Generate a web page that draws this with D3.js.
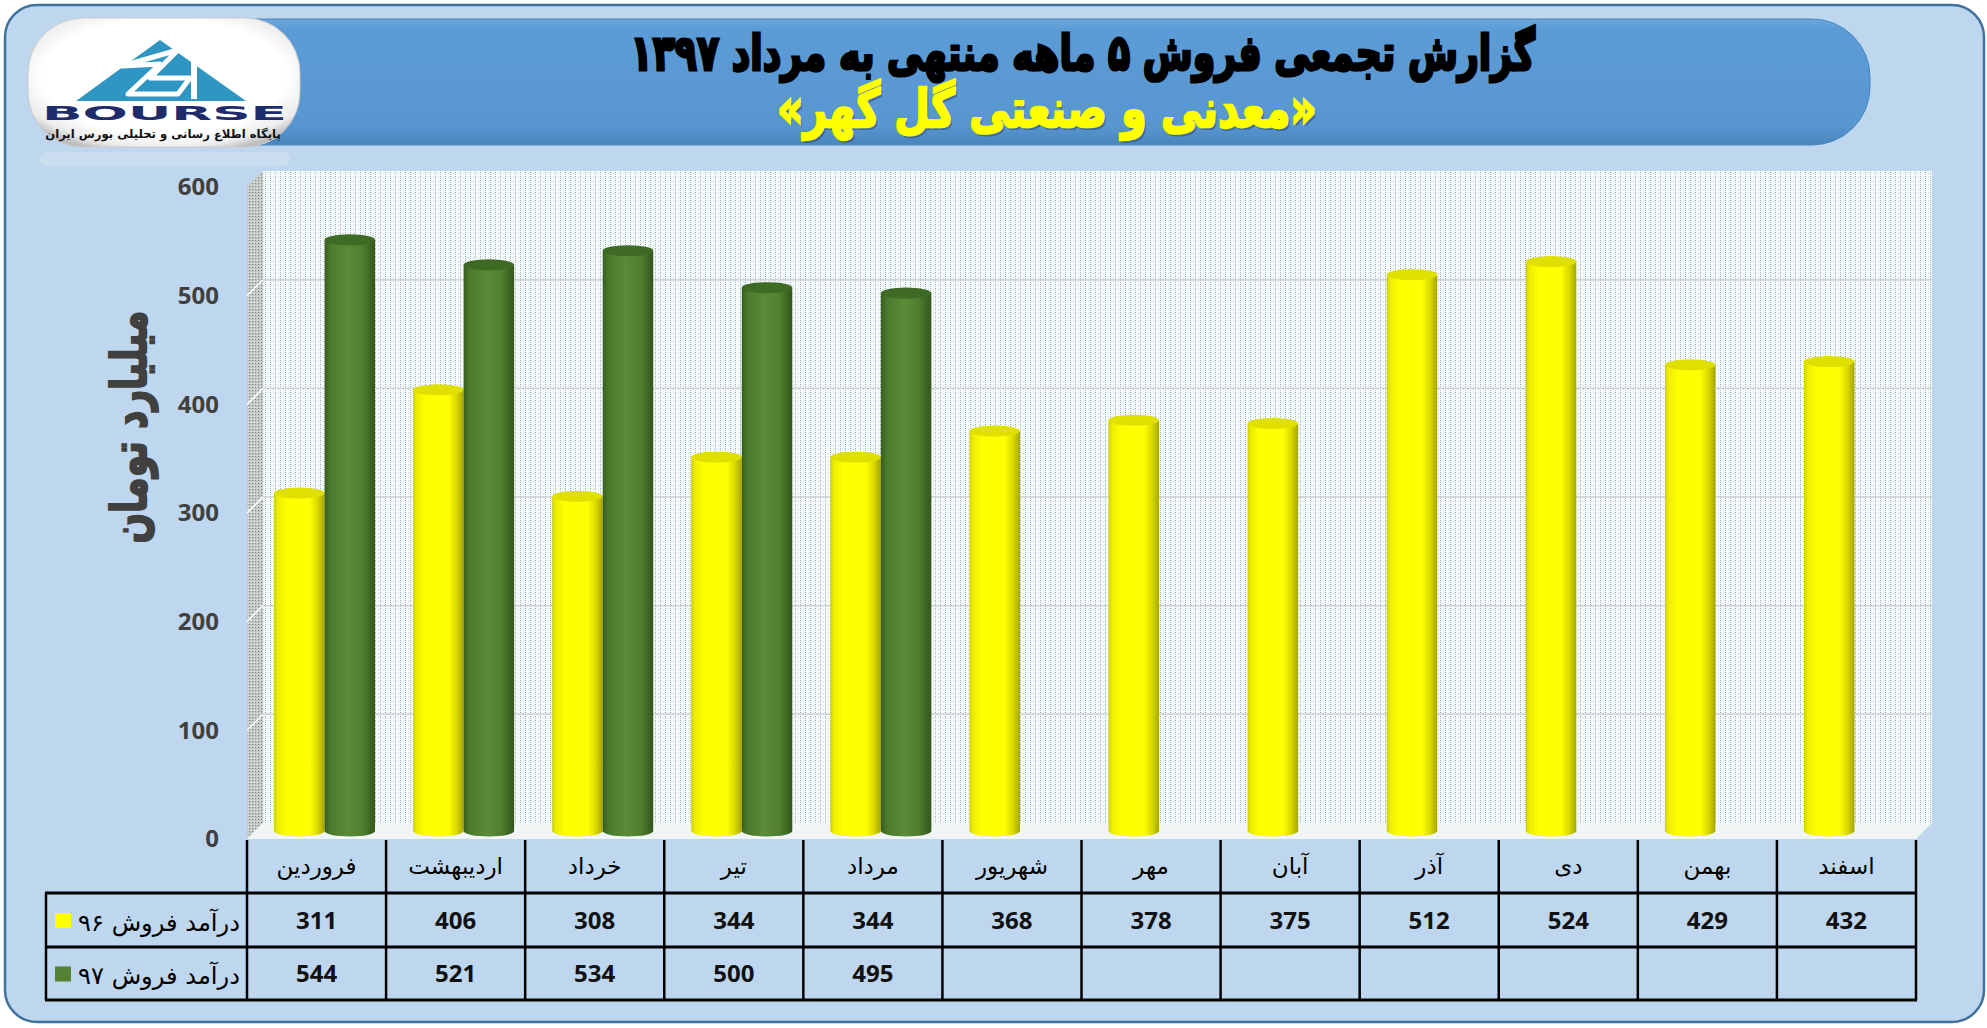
<!DOCTYPE html>
<html><head><meta charset="utf-8">
<script src="https://cdn.jsdelivr.net/npm/d3@7"></script>
<style>body{margin:0;background:#fff;overflow:hidden}svg{display:block}</style>
</head><body>
<svg id="c" width="1987" height="1028"></svg>
<script>
// ---------- data ----------
const months = ["فروردین","اردیبهشت","خرداد","تیر","مرداد","شهریور","مهر","آبان","آذر","دی","بهمن","اسفند"];
const sales96 = [311,406,308,344,344,368,378,375,512,524,429,432];
const sales97 = [544,521,534,500,495,null,null,null,null,null,null,null];
const seriesNames = ["درآمد فروش ۹۶","درآمد فروش ۹۷"];
const yTicks = [0,100,200,300,400,500,600];
const titleLine1 = "گزارش تجمعی فروش ۵ ماهه منتهی به مرداد ۱۳۹۷";
const titleLine2 = "«معدنی و صنعتی گل گهر»";
const yAxisTitle = "میلیارد تومان";
const logoName = "BOURSE";
const logoSub = "پایگاه اطلاع رسانی و تحلیلی بورس ایران";

// ---------- setup ----------
const svg = d3.select("#c");
const defs = svg.append("defs");
const ARABIC = "'DejaVu Sans', sans-serif";
const NUM = "'Open Sans', 'Liberation Sans', sans-serif";

function fitText(sel, w, cx, cy) {
  let bb = sel.node().getBBox();
  const fs = parseFloat(sel.attr("font-size"));
  sel.attr("font-size", fs * w / bb.width);
  bb = sel.node().getBBox();
  sel.attr("x", +sel.attr("x") + (cx - (bb.x + bb.width / 2)));
  sel.attr("y", +sel.attr("y") + (cy - (bb.y + bb.height / 2)));
}
function stretchY(g, cx, cy, k) {
  g.attr("transform", `translate(${cx},${cy}) scale(1,${k}) translate(${-cx},${-cy})`);
}

// gradients
function linGrad(id, stops, vertical) {
  const g = defs.append("linearGradient").attr("id", id)
    .attr("x1", 0).attr("y1", 0).attr("x2", vertical ? 0 : 1).attr("y2", vertical ? 1 : 0);
  stops.forEach(s => g.append("stop").attr("offset", s[0]).attr("stop-color", s[1]));
}
linGrad("gYellow", [[0,"#CFCF00"],[0.07,"#EDED00"],[0.25,"#FFFF00"],[0.7,"#FFFF05"],[0.86,"#DADA00"],[1,"#A5A500"]]);
linGrad("gGreen", [[0,"#375E1D"],[0.12,"#4B7A2C"],[0.45,"#5A8B38"],[0.75,"#4F7F2F"],[1,"#33561B"]]);
linGrad("gBanner", [[0,"#6AA7DD"],[0.08,"#5C9CD6"],[0.85,"#5896D0"],[1,"#4A84BC"]], true);
const rg = defs.append("radialGradient").attr("id", "gLogo").attr("cx", 0.5).attr("cy", 0.45).attr("r", 0.62);
[[0,"#ffffff"],[0.72,"#ffffff"],[0.9,"#ececec"],[1,"#bdbdbd"]].forEach(s => rg.append("stop").attr("offset", s[0]).attr("stop-color", s[1]));

// dotted wall patterns
const pw = defs.append("pattern").attr("id", "pWall").attr("patternUnits", "userSpaceOnUse").attr("width", 5).attr("height", 4);
pw.append("rect").attr("width", 5).attr("height", 4).attr("fill", "#f8fbfb");
pw.append("rect").attr("x", 0).attr("y", 0).attr("width", 1).attr("height", 1).attr("fill", "#86aaaa");
pw.append("rect").attr("x", 0).attr("y", 2).attr("width", 1).attr("height", 1).attr("fill", "#a9c2c2");
pw.append("rect").attr("x", 3).attr("y", 1).attr("width", 1).attr("height", 1).attr("fill", "#c3d3d3");
const pl = defs.append("pattern").attr("id", "pLeft").attr("patternUnits", "userSpaceOnUse").attr("width", 3).attr("height", 3);
pl.append("rect").attr("width", 3).attr("height", 3).attr("fill", "#c4c8c4");
pl.append("rect").attr("width", 1).attr("height", 1).attr("fill", "#7d837d");
pl.append("rect").attr("x", 2).attr("y", 2).attr("width", 1).attr("height", 1).attr("fill", "#e8ebe8");

// ---------- background panel ----------
svg.append("rect").attr("x", 5).attr("y", 5).attr("width", 1979).attr("height", 1017).attr("rx", 32)
  .attr("fill", "#BED7EE").attr("stroke", "#41719C").attr("stroke-width", 2.5);

// header banner
svg.append("rect").attr("x", 60).attr("y", 19).attr("width", 1810).attr("height", 126).attr("rx", 58)
  .attr("fill", "url(#gBanner)").attr("stroke", "#4C86BF").attr("stroke-width", 1);

// logo
const logo = svg.append("g");
logo.append("rect").attr("x", 40).attr("y", 152).attr("width", 250).attr("height", 14).attr("rx", 7)
  .attr("fill", "#d3e3f2").attr("opacity", 0.6);
logo.append("rect").attr("x", 28).attr("y", 18).attr("width", 272).attr("height", 129).attr("rx", 55)
  .attr("fill", "url(#gLogo)").attr("stroke", "#c9c9c9").attr("stroke-width", 1);
logo.append("path").attr("d", "M76,101 L160,40 L246,101 Z").attr("fill", "#2F96C3");
logo.append("path").attr("d", "M122,66 L178,50 L150,78 L190,78 L178,94 L128,94 L160,64 Z")
  .attr("fill", "none").attr("stroke", "#fff").attr("stroke-width", 5).attr("stroke-linejoin", "round");
logo.append("path").attr("d", "M194,56 L194,99").attr("stroke", "#fff").attr("stroke-width", 6);
logo.append("text").attr("x", 42).attr("y", 120).attr("font-family", "'DejaVu Sans', sans-serif")
  .attr("font-weight", 700).attr("font-size", 19).attr("textLength", 245).attr("lengthAdjust", "spacingAndGlyphs")
  .attr("fill", "#1E2C6C").text(logoName);
const ls = logo.append("text").attr("x", 0).attr("y", 0).attr("font-family", ARABIC)
  .attr("font-weight", 700).attr("font-size", 9).attr("fill", "#111").text(logoSub);
fitText(ls, 236, 163, 134);

// titles
const g1 = svg.append("g");
const t1 = g1.append("text").attr("x", 0).attr("y", 0).attr("font-family", ARABIC).attr("font-weight", 700)
  .attr("font-size", 40).attr("fill", "#000").attr("stroke", "#000").attr("stroke-width", 2.2).text(titleLine1);
fitText(t1, 905, 1083, 53);
stretchY(g1, 1083, 53, 1.35);
const g2 = svg.append("g");
const t2s = g2.append("text").attr("x", 0).attr("y", 0).attr("font-family", ARABIC).attr("font-weight", 700)
  .attr("font-size", 40).attr("fill", "#2d4f73").attr("opacity", 0.55).text(titleLine2);
fitText(t2s, 540, 1049, 112);
const t2 = g2.append("text").attr("x", 0).attr("y", 0).attr("font-family", ARABIC).attr("font-weight", 700)
  .attr("font-size", 40).attr("fill", "#FFFF00").attr("stroke", "#FFFF00").attr("stroke-width", 1.8).text(titleLine2);
fitText(t2, 540, 1047, 110);
stretchY(g2, 1047, 110, 1.28);

// ---------- scales ----------
const D = 8; // depth half-offset
const x = d3.scaleBand().domain(months).range([247, 1916]).paddingInner(0.274).paddingOuter(0.137);
const xs = d3.scaleBand().domain([0, 1]).range([0, x.bandwidth()]);
const y = d3.scaleLinear().domain([0, 600]).range([839, 187]); // front plane
const x0 = x.range()[0], x1 = x.range()[1];
const step = x.step();

// ---------- walls ----------
const plot = svg.append("g");
plot.append("rect").attr("x", x0 + 2 * D).attr("y", y(600) - 2 * D)
  .attr("width", x1 - x0).attr("height", y(0) - y(600)).attr("fill", "url(#pWall)");
plot.append("path").attr("d", `M${x0},${y(600)} L${x0 + 2 * D},${y(600) - 2 * D} L${x0 + 2 * D},${y(0) - 2 * D} L${x0},${y(0)} Z`)
  .attr("fill", "url(#pLeft)");
plot.append("path").attr("d", `M${x0},${y(0)} L${x0 + 2 * D},${y(0) - 2 * D} L${x1 + 2 * D},${y(0) - 2 * D} L${x1},${y(0)} Z`)
  .attr("fill", "#f2f5f5");
plot.selectAll("line.grid").data(yTicks.filter(t => t > 0 && t < 600)).join("line").attr("class", "grid")
  .attr("x1", x0 + 2 * D).attr("x2", x1 + 2 * D).attr("y1", t => y(t) - 2 * D).attr("y2", t => y(t) - 2 * D)
  .attr("stroke", "#cdd1d1").attr("stroke-width", 1.5);
plot.selectAll("line.gridl").data(yTicks.filter(t => t > 0 && t < 600)).join("line").attr("class", "gridl")
  .attr("x1", x0).attr("x2", x0 + 2 * D).attr("y1", t => y(t)).attr("y2", t => y(t) - 2 * D)
  .attr("stroke", "#ffffff").attr("stroke-width", 1.5);

// ---------- bars ----------
const bars = [];
months.forEach((m, i) => {
  if (sales96[i] != null) bars.push({ m, s: 0, v: sales96[i] });
  if (sales97[i] != null) bars.push({ m, s: 1, v: sales97[i] });
});
const ry = 5.5;
const bw = xs.bandwidth();
const bg = plot.selectAll("g.bar").data(bars).join("g").attr("class", "bar");
bg.append("path").attr("d", d => {
  const bx = x(d.m) + xs(d.s) + D, top = y(d.v) - D, bot = y(0) - D;
  return `M${bx},${top} L${bx},${bot} A${bw / 2},${ry} 0 0 0 ${bx + bw},${bot} L${bx + bw},${top} Z`;
}).attr("fill", d => d.s === 0 ? "url(#gYellow)" : "url(#gGreen)");
bg.append("ellipse").attr("cx", d => x(d.m) + xs(d.s) + D + bw / 2).attr("cy", d => y(d.v) - D)
  .attr("rx", bw / 2).attr("ry", ry).attr("fill", d => d.s === 0 ? "#E0E000" : "#3F6A24");

// ---------- y axis ----------
const ax = svg.append("g").attr("transform", "translate(221,0)")
  .call(d3.axisLeft(y).tickValues(yTicks).tickSize(0).tickPadding(2).tickFormat(d3.format("d")));
ax.select(".domain").remove();
ax.selectAll("text").attr("font-family", NUM).attr("font-weight", 700).attr("font-size", 24).attr("fill", "#404040");

const yt = svg.append("g").attr("transform", "translate(130,427) rotate(-90) scale(1,1.35)");
const ytt = yt.append("text").attr("x", 0).attr("y", 0).attr("font-family", ARABIC).attr("font-weight", 700)
  .attr("font-size", 40).attr("fill", "#404040").attr("stroke", "#404040").attr("stroke-width", 1.6).text(yAxisTitle);
fitText(ytt, 233, 0, 0);

// ---------- data table ----------
const tb = svg.append("g");
const rowY = [840, 893, 947, 1000];
const bounds = d3.range(months.length + 1).map(i => x0 + i * step);
tb.selectAll("line.v").data(bounds).join("line").attr("class", "v")
  .attr("x1", d => d).attr("x2", d => d).attr("y1", rowY[0]).attr("y2", rowY[3])
  .attr("stroke", "#000").attr("stroke-width", 2.5);
tb.append("line").attr("x1", 46).attr("x2", 46).attr("y1", rowY[1]).attr("y2", rowY[3]).attr("stroke", "#000").attr("stroke-width", 2.5);
tb.selectAll("line.h").data(rowY.slice(1)).join("line").attr("class", "h")
  .attr("x1", 45).attr("x2", x1 + 1).attr("y1", d => d).attr("y2", d => d)
  .attr("stroke", "#000").attr("stroke-width", 3);

tb.selectAll("text.m").data(months).join("text").attr("class", "m")
  .attr("x", m => x(m) + x.bandwidth() / 2).attr("y", 866).attr("dy", "0.35em")
  .attr("text-anchor", "middle").attr("font-family", ARABIC).attr("font-size", 23).attr("fill", "#000").text(m => m);

[sales96, sales97].forEach((arr, si) => {
  tb.selectAll("text.v" + si).data(months.map((m, i) => ({ m, v: arr[i] })).filter(d => d.v != null))
    .join("text").attr("class", "v" + si)
    .attr("x", d => x(d.m) + x.bandwidth() / 2).attr("y", (rowY[si + 1] + rowY[si + 2]) / 2).attr("dy", "0.36em")
    .attr("text-anchor", "middle").attr("font-family", NUM).attr("font-weight", 700).attr("font-size", 24)
    .attr("fill", "#111").text(d => d.v);
});

const keyColors = ["#FFFF00", "#548235"];
seriesNames.forEach((n, si) => {
  const cy = (rowY[si + 1] + rowY[si + 2]) / 2;
  tb.append("rect").attr("x", 55).attr("y", cy - 7).attr("width", 16).attr("height", 15).attr("fill", keyColors[si]);
  const t = tb.append("text").attr("x", 0).attr("y", 0).attr("font-family", ARABIC).attr("font-size", 22)
    .attr("fill", "#000").text(n);
  fitText(t, 162, 159, cy + 2);
});
</script>
</body></html>
